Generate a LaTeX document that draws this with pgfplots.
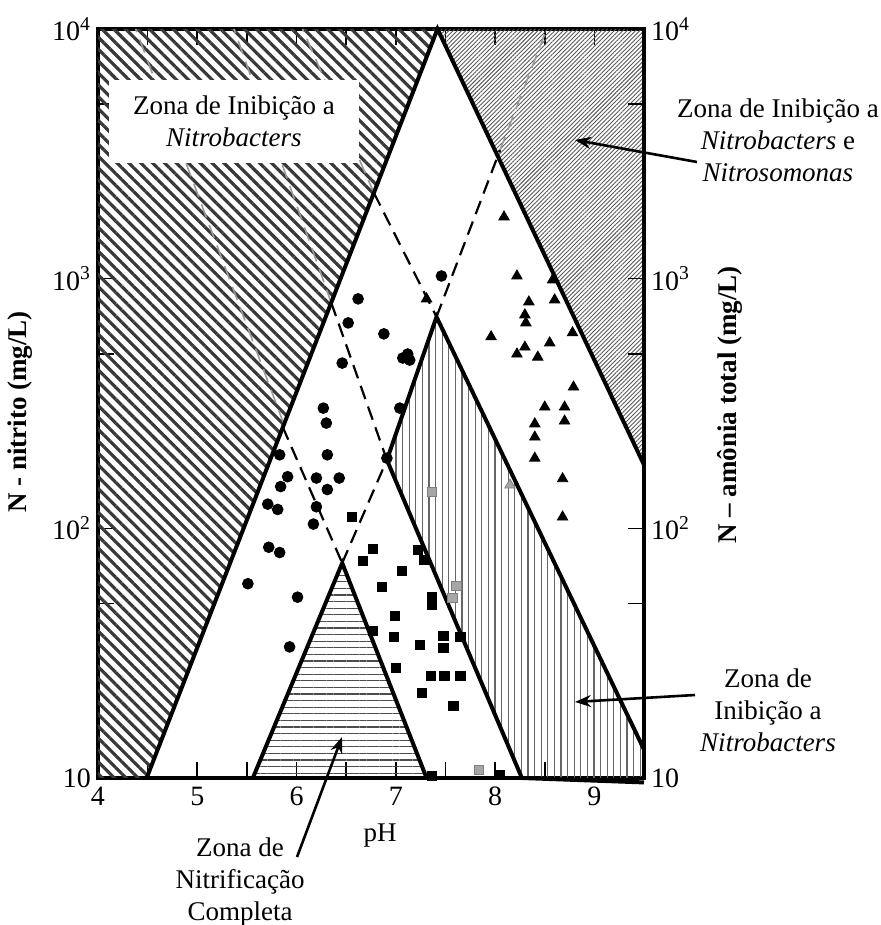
\documentclass[border=0pt]{standalone}
\usepackage{fontspec}
\setmainfont{Liberation Serif}
\usepackage{pgfplots}
\pgfplotsset{compat=1.18}
\usetikzlibrary{patterns.meta,arrows.meta}
\newcommand{\fs}{\fontsize{13.5}{16}\selectfont}
\newcommand{\ft}{\fontsize{14}{16}\selectfont}
\begin{document}
\begin{tikzpicture}
\begin{axis}[
  scale only axis, width=273pt, height=374.5pt,
  xmin=4, xmax=9.5, ymode=log, ymin=10, ymax=10000,
  clip=false,
  axis line style={line width=1.8pt},
  tick align=inside,
  xtick={4,4.5,5,5.5,6,6.5,7,7.5,8,8.5,9},
  xticklabels={4,,5,,6,,7,,8,,9},
  ytick={10,50,100,500,1000,5000,10000},
  yticklabels={10,,10\textsuperscript{2},,10\textsuperscript{3},,10\textsuperscript{4}},
  ytick pos=left,
  xminorticks=false, yminorticks=false,
  major tick length=8pt,
  tick style={line width=0.8pt, black},
  ticklabel style={font=\ft},
  xticklabel style={yshift=-1pt},
  xlabel={pH},
  xlabel style={at={(rel axis cs:0.5165,-0.0774)}, anchor=center, font=\fs},
  ylabel={\textbf{N - nitrito (mg/L)}},
  ylabel style={at={(rel axis cs:-0.1429,0.4887)}, anchor=center, font=\fs},
]
% hatched regions
\addplot[draw=none, pattern={Lines[angle=-45,distance=4.2pt,line width=1.6pt]}, pattern color=black!78]
  coordinates {(4,10) (4,10000) (7.42,10000) (4.49,10)} -- cycle;
\addplot[draw=none, pattern={Lines[angle=45,distance=1.5pt,line width=0.45pt]}, pattern color=black!65]
  coordinates {(7.42,10000) (9.5,10000) (9.5,179.6)} -- cycle;
\addplot[draw=none, pattern={Lines[angle=90,distance=3.3pt,line width=0.6pt]}, pattern color=black!60]
  coordinates {(6.91,188) (7.41,703) (9.5,13.0) (9.5,10) (8.27,10)} -- cycle;
\addplot[draw=none, pattern={Lines[angle=0,distance=3.3pt,line width=0.55pt]}, pattern color=black!70]
  coordinates {(5.56,10) (6.46,72.6) (7.31,10)} -- cycle;
% gray dashed lines inside hatched zones
\addplot[black!40, line width=0.8pt, dash pattern=on 7pt off 4pt] coordinates {(5.87,263) (4.38,10000)};
\addplot[black!40, line width=0.8pt, dash pattern=on 7pt off 4pt] coordinates {(6.35,800) (5.37,10000)};
\addplot[black!40, line width=0.8pt, dash pattern=on 7pt off 4pt] coordinates {(6.78,2203) (6.06,10000)};
\addplot[black!40, line width=0.8pt, dash pattern=on 7pt off 4pt] coordinates {(8.05,3273) (8.52,10000)};
% black dashed lines
\addplot[black, line width=1.1pt, dash pattern=on 7pt off 4pt] coordinates {(6.46,72.6) (6.91,188)};
\addplot[black, line width=1.1pt, dash pattern=on 7pt off 4pt] coordinates {(7.41,703) (8.05,3273)};
\addplot[black, line width=1.1pt, dash pattern=on 7pt off 4pt] coordinates {(6.78,2203) (7.41,703)};
\addplot[black, line width=1.1pt, dash pattern=on 7pt off 4pt] coordinates {(6.35,800) (6.91,188)};
\addplot[black, line width=1.1pt, dash pattern=on 7pt off 4pt] coordinates {(5.86,255) (6.46,72.6)};
% solid boundaries
\addplot[black, line width=2pt] coordinates {(4.49,10) (7.42,10000) (9.5,179.6)};
\addplot[black, line width=2pt] coordinates {(6.91,188) (7.41,703) (9.5,13.0)};
\addplot[black, line width=2pt] coordinates {(6.91,188) (8.27,10)};
\addplot[black, line width=2pt] coordinates {(5.56,10) (6.46,72.6) (7.31,10)};
\addplot[black, line width=2pt] coordinates {(8.27,10) (9.5,9.6)};
% data points
\addplot[only marks, mark=*, mark size=2.7pt, black] coordinates {
(7.46,1025) (6.62,830) (6.52,665) (6.88,601) (6.46,459) (7.07,481) (7.14,472) (7.12,499)
(6.27,303) (6.30,264) (7.04,303) (6.91,191) (5.83,197) (6.31,197) (5.91,161) (6.20,159)
(6.43,159) (5.84,147) (6.31,143) (5.71,125) (5.81,119) (6.20,122) (6.17,104) (5.72,84)
(5.83,80) (5.51,60) (6.01,53) (5.93,33.5)};
\addplot[only marks, mark=square*, mark size=2.3pt, black] coordinates {
(6.56,111) (6.77,82.7) (6.67,73.9) (7.22,81.8) (7.28,74.6) (7.06,67.4) (6.86,58.2) (7.36,53.1)
(7.36,49.3) (6.99,44.6) (6.77,38.8) (6.98,36.7) (7.24,34.1) (7.48,37.1) (7.48,33.2) (7.65,36.7)
(7.00,27.6) (7.35,25.6) (7.49,25.6) (7.65,25.6) (7.26,21.9) (7.58,19.5) (8.05,10.3) (7.36,10.2)};
\addplot[only marks, mark=square*, mark size=2.3pt, draw=black!50, fill=black!35] coordinates {
(7.36,140) (7.61,58.7) (7.57,52.6) (7.84,10.8)};
\addplot[only marks, mark=triangle*, mark size=3pt, black] coordinates {
(7.31,830) (8.09,1767) (8.22,1025) (8.58,989) (8.34,807) (8.60,822) (8.30,716) (8.31,665)
(7.96,585) (8.78,607) (8.22,499) (8.30,532) (8.43,485) (8.55,553) (8.79,368) (8.50,306)
(8.70,306) (8.40,262) (8.70,269) (8.40,232) (8.40,191) (8.68,158) (8.68,111)};
\addplot[only marks, mark=triangle*, mark size=3pt, draw=black!50, fill=black!35] coordinates {(8.15,149)};
% annotations
\node[fill=white, inner sep=0pt, minimum width=125pt, minimum height=41.5pt, align=center, font=\fs]
  at (rel axis cs:0.249,0.877) {Zona de Inibição a\\\textit{Nitrobacters}};
\node[align=center, font=\fs] at (rel axis cs:1.2454,0.8518)
  {Zona de Inibição a\\\textit{Nitrobacters} e\\\textit{Nitrosomonas}};
\draw[line width=1.3pt, -{Stealth[length=8pt,width=6pt]}] (rel axis cs:1.0971,0.8224) -- (rel axis cs:0.8736,0.8518);
\node[align=center, font=\fs] at (rel axis cs:1.2271,0.0908)
  {Zona de\\Inibição a\\\textit{Nitrobacters}};
\draw[line width=1.3pt, -{Stealth[length=8pt,width=6pt]}] (rel axis cs:1.0934,0.1108) -- (rel axis cs:0.8736,0.1015);
\node[align=center, font=\fs] at (rel axis cs:0.2601,-0.1389)
  {Zona de\\Nitrificação\\Completa};
\draw[line width=1.3pt, -{Stealth[length=8pt,width=6pt]}] (rel axis cs:0.3645,-0.1055) -- (rel axis cs:0.4469,0.0547);
\coordinate (SW) at (rel axis cs:0,0);
\coordinate (NE) at (rel axis cs:1,1);
\end{axis}
\begin{axis}[
  scale only axis, width=273pt, height=374.5pt,
  xmin=4, xmax=9.5, ymode=log, ymin=10, ymax=10000,
  axis x line=none, axis y line*=right,
  axis line style={line width=1.8pt},
  tick align=inside,
  ytick={10,50,100,500,1000,5000,10000},
  yticklabels={10,,10\textsuperscript{2},,10\textsuperscript{3},,10\textsuperscript{4}},
  yminorticks=false,
  major tick length=8pt,
  tick style={line width=0.8pt, black},
  ticklabel style={font=\ft},
  ylabel={\textbf{N – amônia total (mg/L)}},
  ylabel style={at={(rel axis cs:1.1575,0.498)}, anchor=center, font=\fs},
]
\end{axis}
\pgfresetboundingbox
\path[use as bounding box] ([shift={(-49pt,-73.5pt)}]SW) rectangle ([shift={(118.5pt,14.5pt)}]NE);
\end{tikzpicture}
\end{document}
